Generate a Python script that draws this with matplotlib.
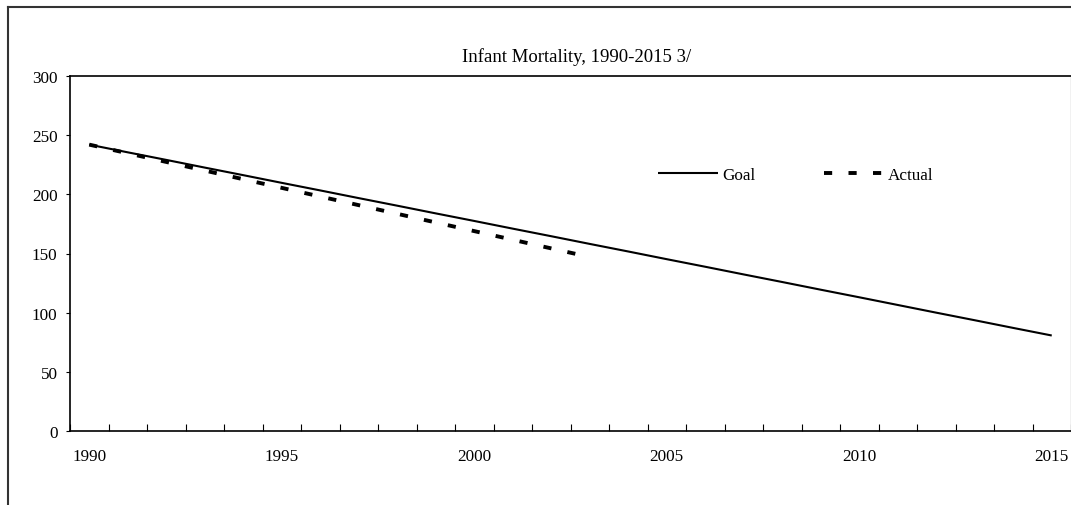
import matplotlib
matplotlib.use("Agg")
import matplotlib.pyplot as plt
from matplotlib.lines import Line2D

plt.rcParams['font.family'] = ['Liberation Serif', 'DejaVu Serif']

years = list(range(1990, 2016))
goal_values = [242.0, 235.5, 229.1, 222.6, 216.2, 209.7, 203.3, 196.8, 190.4, 183.9,
               177.5, 171.0, 164.6, 158.1, 151.7, 145.2, 138.8, 132.3, 125.9, 119.4,
               113.0, 106.5, 100.0, 93.6, 87.1, 80.7]
actual_years = [1990, 2003]
actual_values = [242.0, 147.0]
tick_labels = ['1990', '1995', '2000', '2005', '2010', '2015']
title = 'Infant Mortality, 1990-2015 3/'

W, H = 1071, 506
fig = plt.figure(figsize=(W / 100, H / 100), dpi=100)
ax = fig.add_axes([70 / W, (H - 432) / H, (1071 - 70) / W, (432 - 77) / H])

xg = [y - years[0] for y in years]
xa = [y - years[0] for y in actual_years]
ax.plot(xg, goal_values, color='black', lw=1.5, label='Goal', solid_capstyle='butt')
ax.plot(xa, actual_values, color='black', lw=2.8, dashes=(2.1, 4.2), label='Actual',
        dash_capstyle='butt')

ax.set_xlim(-0.5, len(years) - 0.5)
ax.set_ylim(0, 300)
ax.set_yticks(range(0, 301, 50))
ax.tick_params(axis='y', direction='out', length=3, width=0.8, pad=6, labelsize=12.3)

label_pos = [years.index(int(t)) for t in tick_labels]
ax.set_xticks(label_pos)
ax.set_xticklabels(tick_labels)
ax.tick_params(axis='x', which='major', length=0, pad=12, labelsize=12.3)
ax.set_xticks([i - 0.5 for i in range(len(years) + 1)], minor=True)
ax.tick_params(axis='x', which='minor', direction='in', length=5, width=0.8)

for s in ['left', 'bottom', 'top']:
    ax.spines[s].set_color('black')
    ax.spines[s].set_linewidth(1.2)
ax.spines['right'].set_color('#bbbbbb')
ax.spines['right'].set_linewidth(1.0)

fig.text(577 / W, 1 - 57 / H, title, ha='center', va='center', fontsize=13.5)

leg = ax.legend(loc='center left', bbox_to_anchor=(658 / W, 1 - 176 / H),
                bbox_transform=fig.transFigure, ncol=2, frameon=False,
                borderpad=0, borderaxespad=0, handlelength=3.5,
                handletextpad=0.25, columnspacing=4.0, fontsize=12.3)

# outer chart border (left and top visible)
fig.add_artist(Line2D([8 / W, 8 / W], [0, 1 - 8 / H], transform=fig.transFigure,
                      color='#333333', lw=1.5))
fig.add_artist(Line2D([8 / W, 1], [1 - 8 / H, 1 - 8 / H], transform=fig.transFigure,
                      color='#333333', lw=1.5))

fig.savefig('out.png', dpi=100)
